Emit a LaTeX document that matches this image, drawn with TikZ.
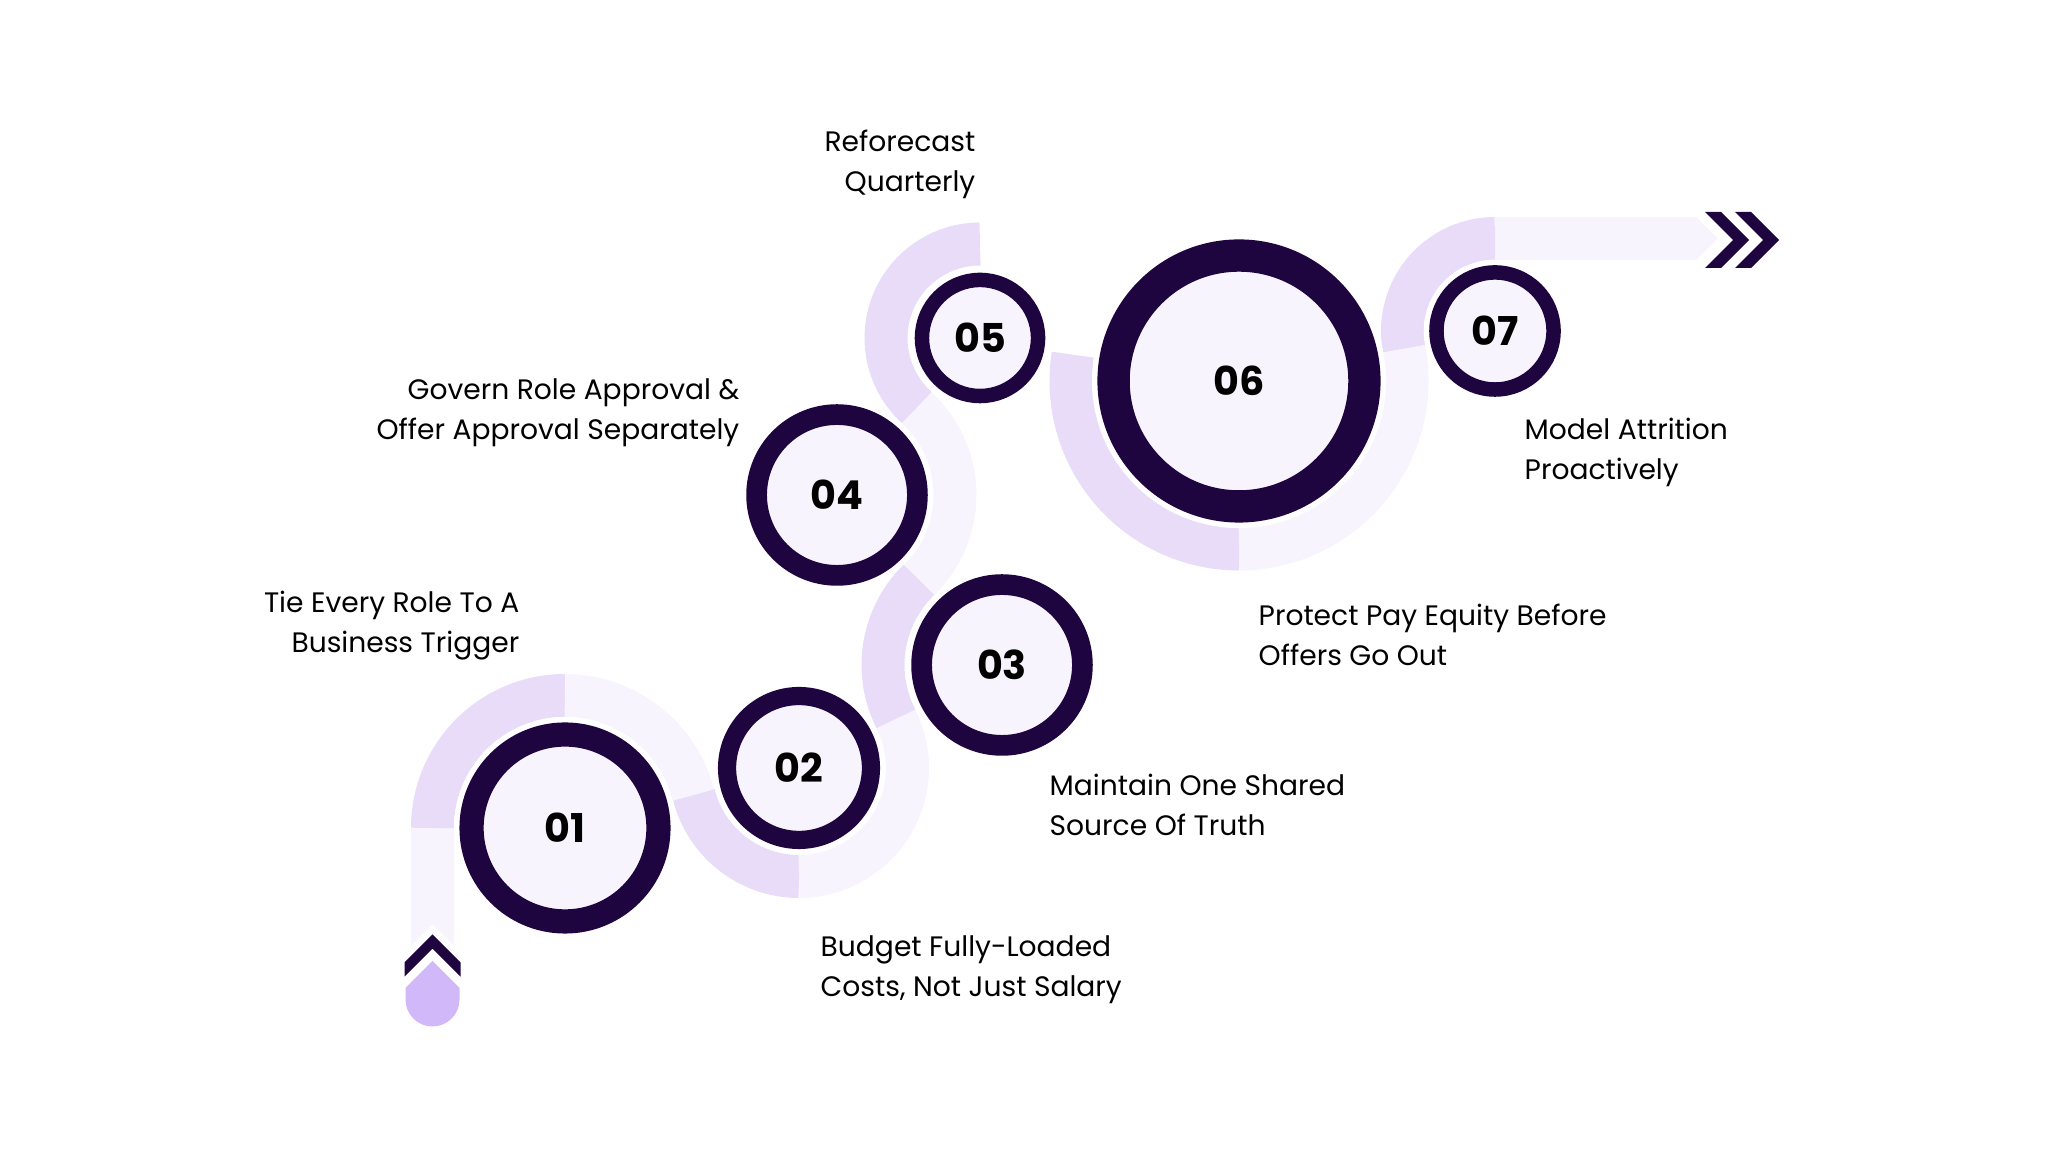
\documentclass[tikz,border=0pt]{standalone}
\usepackage{fontspec}
\setmainfont{Poppins}
\definecolor{ink}{HTML}{1F0540}
\definecolor{pathdark}{HTML}{E8DCF9}
\definecolor{pathlight}{HTML}{F7F4FE}
\definecolor{softbg}{HTML}{F7F4FE}
\definecolor{droplilac}{HTML}{D1B8F9}
\tikzstyle{trackdark} = [draw=pathdark, line width=0.43cm]
\tikzstyle{tracklight} = [draw=pathlight, line width=0.43cm]
\tikzstyle{steptext} = [inner sep=0pt, text=black, font=\fontsize{8.0}{11.5}\selectfont]
\tikzstyle{ring} = [circle, inner sep=0pt, draw=ink, fill=softbg, font=\bfseries\fontsize{11.3}{12}\selectfont]
\tikzset{ringsize/.style n args={3}{minimum size=#1, line width=#2, preaction={draw=white, line width=#3}}}

\begin{document}
\begin{tikzpicture}[x=0.01cm, y=0.01cm]
  \useasboundingbox (0,0) rectangle (2048,1152);

  \coordinate (c1) at (565,324);
  \coordinate (c2) at (799,384);
  \coordinate (c3) at (1002,487);
  \coordinate (c4) at (837,657);
  \coordinate (c5) at (980,814);
  \coordinate (c6) at (1239,771);
  \coordinate (c7) at (1495,821);

  % the winding track
  \draw[tracklight] ([shift={(180:132.5)}]c1) -- ++(0,-122);
  \draw[trackdark] ([shift={(180:132.5)}]c1) arc[start angle=180, end angle=90, radius=132.5];
  \draw[tracklight] ([shift={(90:132.5)}]c1) arc[start angle=90, end angle=14.4, radius=132.5];
  \draw[trackdark] ([shift={(194.4:108.5)}]c2) arc[start angle=194.4, end angle=270, radius=108.5];
  \draw[tracklight] ([shift={(270:108.5)}]c2) arc[start angle=270, end angle=386.9, radius=108.5];
  \draw[trackdark] ([shift={(206.9:119)}]c3) arc[start angle=206.9, end angle=134.2, radius=119];
  \draw[tracklight] ([shift={(-45.8:118)}]c4) arc[start angle=-45.8, end angle=47.7, radius=118];
  \draw[trackdark] ([shift={(227.7:94)}]c5) arc[start angle=227.7, end angle=90, radius=94];
  \draw[trackdark] ([shift={(171:168)}]c6) arc[start angle=171, end angle=270, radius=168];
  \draw[tracklight] ([shift={(270:168)}]c6) arc[start angle=270, end angle=371, radius=168];
  \draw[trackdark] ([shift={(191:92.5)}]c7) arc[start angle=191, end angle=90, radius=92.5];
  \fill[pathlight] ([shift={(0,71)}]c7) -- ++(201,0) -- ++(21.5,21.5) -- ++(-21.5,21.5) -- ++(-201,0) -- cycle;

  % start marker
  \fill[ink, preaction={draw=white, line width=0.14cm}] (432.5,217.7) -- (460.5,189.7) -- (460.5,175.3)
    -- (432.5,203.3) -- (404.5,175.3) -- (404.5,189.7) -- cycle;
  \fill[droplilac] (432.5,191) -- (459.5,164) -- (459.5,152.5) arc[start angle=0, end angle=-180, radius=27]
    -- (405.5,164) -- cycle;

  % end arrows
  \foreach \x in {1705,1735}
    \fill[ink] (\x,940) -- ++(16,0) -- ++(28,-28) -- ++(-28,-28) -- ++(-16,0) -- ++(28,28) -- cycle;

  % steps
  \node[ring, ringsize={1.868cm}{0.242cm}{0.352cm}] (S1) at (c1) {01};
  \node[ring, ringsize={1.438cm}{0.182cm}{0.292cm}] (S2) at (c2) {02};
  \node[ring, ringsize={1.607cm}{0.207cm}{0.317cm}] (S3) at (c3) {03};
  \node[ring, ringsize={1.607cm}{0.207cm}{0.317cm}] (S4) at (c4) {04};
  \node[ring, ringsize={1.16cm}{0.145cm}{0.255cm}] (S5) at (c5) {05};
  \node[ring, ringsize={2.507cm}{0.323cm}{0.433cm}] (S6) at (c6) {06};
  \node[ring, ringsize={1.17cm}{0.145cm}{0.255cm}] (S7) at (c7) {07};

  \node[steptext, anchor=north east, align=right] (T1) at (520,562) {Tie Every Role To A\\Business Trigger};
  \node[steptext, anchor=north west, align=left] (T2) at (820,217) {Budget Fully-Loaded\\Costs, Not Just Salary};
  \node[steptext, anchor=north west, align=left] (T3) at (1049,379) {Maintain One Shared\\Source Of Truth};
  \node[steptext, anchor=north east, align=right] (T4) at (740,774) {Govern Role Approval \&\\Offer Approval Separately};
  \node[steptext, anchor=north east, align=right] (T5) at (976,1023) {Reforecast\\Quarterly};
  \node[steptext, anchor=north west, align=left] (T6) at (1258,549) {Protect Pay Equity Before\\Offers Go Out};
  \node[steptext, anchor=north west, align=left] (T7) at (1524,735) {Model Attrition\\Proactively};
\end{tikzpicture}
\end{document}
